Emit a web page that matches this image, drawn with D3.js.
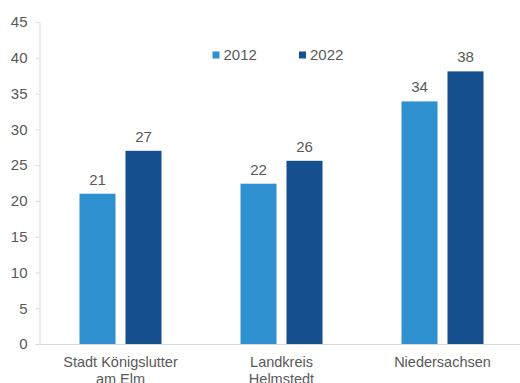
<!DOCTYPE html>
<html>
<head>
<meta charset="utf-8">
<script src="https://cdn.jsdelivr.net/npm/d3@7"></script>
<style>
  html, body { margin: 0; padding: 0; background: #fff; }
  svg { display: block; font-family: "Liberation Sans", Arial, sans-serif; }
</style>
</head>
<body>
<svg id="chart" width="520" height="383"></svg>
<script>
// Categories (two-line labels) and values per year
const categories = ["Stadt Königslutter|am Elm", "Landkreis|Helmstedt", "Niedersachsen"];
const series = ["2012", "2022"];
const values2012 = [21.0, 22.4, 33.9];
const values2022 = [27.0, 25.6, 38.1];
const yTicks = [0, 5, 10, 15, 20, 25, 30, 35, 40, 45];
const colors = ["#2F90D0", "#164F8E"];

const svg = d3.select("#chart");
const textColor = "#595959";
const gridColor = "#D9D9D9";

const plotLeft = 39.5, plotRight = 523, plotTop = 22, plotBottom = 344;

const x0 = d3.scaleBand().domain(categories).range([plotLeft + 0.5, plotRight]).padding(0);
const x1 = d3.scaleBand().domain(series).range([-41, 41]).paddingInner(0.217).paddingOuter(0);
const y = d3.scaleLinear().domain([0, 45]).range([plotBottom, plotTop]);

const data = categories.map((c, i) => ({
  cat: c,
  vals: [{ s: "2012", v: values2012[i] }, { s: "2022", v: values2022[i] }]
}));

// Y axis
const yAxis = svg.append("g")
  .attr("transform", `translate(${plotLeft},0)`)
  .call(d3.axisLeft(y).tickValues(yTicks).tickSize(4).tickPadding(8).tickSizeOuter(0));
yAxis.select(".domain").attr("stroke", gridColor);
yAxis.selectAll(".tick line").attr("stroke", gridColor);
yAxis.selectAll(".tick text")
  .attr("fill", textColor)
  .style("font-size", "15px")
  .style("font-family", "'Liberation Sans', Arial, sans-serif");

// Baseline
svg.append("line")
  .attr("x1", plotLeft).attr("x2", 520)
  .attr("y1", y(0) + 0.5).attr("y2", y(0) + 0.5)
  .attr("stroke", gridColor).attr("stroke-width", 1);

// Bars
const groups = svg.append("g").selectAll("g")
  .data(data).join("g")
  .attr("transform", d => `translate(${x0(d.cat) + x0.bandwidth() / 2},0)`);

groups.selectAll("rect")
  .data(d => d.vals).join("rect")
  .attr("x", d => x1(d.s))
  .attr("width", x1.bandwidth())
  .attr("y", d => y(d.v))
  .attr("height", d => y(0) - y(d.v))
  .attr("fill", (d, i) => colors[i]);

// Value labels
groups.selectAll("text.val")
  .data(d => d.vals).join("text")
  .attr("class", "val")
  .attr("x", d => x1(d.s) + x1.bandwidth() / 2)
  .attr("y", d => y(d.v) - 9)
  .attr("text-anchor", "middle")
  .attr("fill", textColor)
  .style("font-size", "15px")
  .text(d => d3.format(".0f")(d.v));

// Category labels
groups.append("text")
  .attr("text-anchor", "middle")
  .attr("fill", textColor)
  .style("font-size", "14.5px")
  .selectAll("tspan")
  .data(d => d.cat.split("|")).join("tspan")
  .attr("x", 0)
  .attr("y", (d, i) => 367 + i * 17)
  .text(d => d);

// Legend
const legend = svg.append("g");
const legendX = [212.5, 299];
series.forEach((s, i) => {
  legend.append("rect")
    .attr("x", legendX[i]).attr("y", 51.5)
    .attr("width", 7).attr("height", 7)
    .attr("fill", colors[i]);
  legend.append("text")
    .attr("x", legendX[i] + 11)
    .attr("y", 60)
    .attr("fill", textColor)
    .style("font-size", "15px")
    .text(s);
});
</script>
</body>
</html>
